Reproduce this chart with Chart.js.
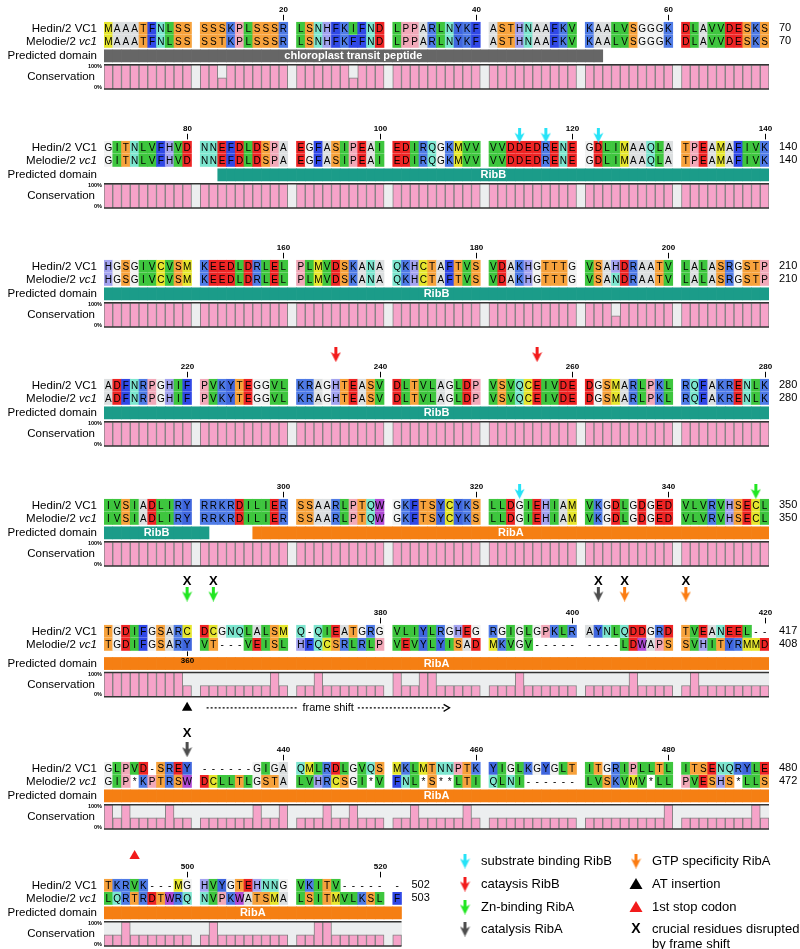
<!DOCTYPE html>
<html>
<head>
<meta charset="utf-8">
<script src="https://cdn.jsdelivr.net/npm/chart.js@4.4.1/dist/chart.umd.min.js"></script>
<style>
body { margin: 0; background: #fff; overflow: hidden; width: 800px; height: 949px; position: relative; }
canvas { position: absolute; left: 0; }
</style>
</head>
<body>
<script>
// alignment, one string per block; a space is the gap column between groups of ten
var hedinSeq = [
    'MAAATFNLSS SSSKPLSSSR LSNHFKIFND LPPARLNYKF ASTHNAAFKV KAALVSGGGK DLAVVDESKS',
    'GITNLVFHVD NNEFDLDSPA EGFASIPEAI EDIRQGKMVV VVDDEDRENE GDLIMAAQLA TPEAMAFIVK',
    'HGSGIVCVSM KEEDLDRLEL PLMVDSKANA QKHCTAFTVS VDAKHGTTTG VSAHDRAATV LALASRGSTP',
    'ADFNRPGHIF PVKYTEGGVL KRAGHTEASV DLTVLAGLDP VSVQCEIVDE DGSMARLPKL RQFAKRENLK',
    'IVSIADLIRY RRKRDILIER SSAARLPTQW GKFTSYCYKS LLDGIEHIAM VKGDLGDGED VLVRVHSECL',
    'TGDIFGSARC DCGNQLALSM Q-QIEATGRG VLIYLRGHEG RGIGLGPKLR AYNLQDDGRD TVEANEEL--',
    'GLPVD-SREY ------GIGA QMLRDLGVQS MKLMTNNPTK YIGLKGYGLT ITGRIPLLTL ITSENQRYLE',
    'TKRVK---MG HVYGTEHNNG VKITV----- -'
];
var melodieSeq = [
    'MAAATFNLSS SSTKPLSSSR LSNHFKFFND LPPARLNYKF ASTHNAAFKV KAALVSGGGK DLAVVDESKS',
    'GITNLVFHVD NNEFDLDSPA EGFASIPEAI EDIRQGKMVV VVDDEDRENE GDLIMAAQLA TPEAMAFIVK',
    'HGSGIVCVSM KEEDLDRLEL PLMVDSKANA QKHCTAFTVS VDAKHGTTTG VSANDRAATV LALASRGSTP',
    'ADFNRPGHIF PVKYTEGGVL KRAGHTEASV DLTVLAGLDP VSVQCEIVDE DGSMARLPKL RQFAKRENLK',
    'IVSIADLIRY RRKRDILIER SSAARLPTQW GKFTSYCYKS LLDGIEHIAM VKGDLGDGED VLVRVHSECL',
    'TGDIFGSARY VT---VEISL HFQCSRLRLP VEVYLYISAD MKVGV----- ----LDWAPS SVHITYRMMD',
    'GIP*KPTRSW DCLLTLGSTA LVHRCSGI*V FNL*S**LTI QLNI------ LVSKVMV*LL PVESHS*LLS',
    'LQRTRDTWRQ NVPKWATSMA LSITMVLKSL F'
];
// conservation: H full, L partial
var consCode = [
    'HHHHHHHHHH HHLHHHHHHH HHHHHHLHHH HHHHHHHHHH HHHHHHHHHH HHHHHHHHHH HHHHHHHHHH',
    'HHHHHHHHHH HHHHHHHHHH HHHHHHHHHH HHHHHHHHHH HHHHHHHHHH HHHHHHHHHH HHHHHHHHHH',
    'HHHHHHHHHH HHHHHHHHHH HHHHHHHHHH HHHHHHHHHH HHHHHHHHHH HHHLHHHHHH HHHHHHHHHH',
    'HHHHHHHHHH HHHHHHHHHH HHHHHHHHHH HHHHHHHHHH HHHHHHHHHH HHHHHHHHHH HHHHHHHHHH',
    'HHHHHHHHHH HHHHHHHHHH HHHHHHHHHH HHHHHHHHHH HHHHHHHHHH HHHHHHHHHH HHHHHHHHHH',
    'HHHHHHHHHL LLLLLLLLHL LLHLLLLLLL HLLHHLLLLL LLLHLLLLLL LLLLLHLLLL LHLLLLLLLL',
    'HLHLLLLHLL LLLLLLHLLH LLLHLLHLLL LLHLLLLLHL LLLLLLLLLL LLLLLLLLLH LLLLLLLLHL',
    'LLHLLLLLLL LHLLLLLLLL LLHHLLLLLL L'
];
var consValue = { H: 100, L: 46 };

var tickNumbers = [20, 40, 60, 80, 100, 120, 140, 160, 180, 200, 220, 240, 260, 280,
                   300, 320, 340, 380, 400, 420, 440, 460, 480, 500, 520];
var tickBelow = [360];
var hedinEnd = [70, 140, 210, 280, 350, 417, 480, 502];
var melodieEnd = [70, 140, 210, 280, 350, 408, 472, 503];

var domainNames = ['chloroplast transit peptide', 'RibB', 'RibA'];
var domainStart = [1, 83, 297];
var domainEnd = [52, 291, 521];
var domainColors = ['#666666', '#1b9c89', '#f57f13'];

var substrateRibB = [114, 117, 122, 324];
var catalysisRibB = [235, 256];
var znRibA = [349, 360, 362];
var catalysisRibA = [402, 430];
var gtpRibA = [405, 411];
var disrupted = [360, 362, 402, 405, 411, 430];
var atInsertion = [360];
var firstStop = [424];
var frameShift = [361, 387];

var aaColors = {
    A: '#dcdfe0', G: '#f1f2f2',
    D: '#ee2424', E: '#ee2424',
    K: '#4f7be6', R: '#4f7be6', F: '#3048e6', Y: '#3f66de', H: '#a3a3f0', W: '#b04ad6',
    N: '#7de6cf', Q: '#7de6cf',
    S: '#f7a23c', T: '#f7a23c',
    L: '#3ec63e', I: '#3ec63e', V: '#3ec63e',
    M: '#e6e62e', C: '#e6e62e',
    P: '#f2a9b9'
};

var FONT = '"Liberation Sans", Arial, sans-serif';
var NARROW = '"Liberation Sans Narrow", "Liberation Sans", Arial, sans-serif';
var blockY = [27, 146, 265, 384, 504, 630, 767, 884];   // centre of the Hedin row
var arrowLift = [20, 13, 20, 33, 15, 40, 20, 20];        // arrows sit this far above it
var CANVAS_H = 180, ROW0 = 70;

function posToCol(p) {
    var i = (p - 1) % 70;
    return { b: Math.floor((p - 1) / 70), c: i + Math.floor(i / 10) };
}

function makeArrow(color) {
    var c = document.createElement('canvas');
    c.width = 11; c.height = 15;
    var g = c.getContext('2d');
    g.fillStyle = color;
    g.beginPath();
    g.moveTo(4, 0); g.lineTo(7, 0); g.lineTo(7, 7); g.lineTo(10.5, 5);
    g.lineTo(5.5, 15); g.lineTo(0.5, 5); g.lineTo(4, 7);
    g.closePath();
    g.fill();
    return c;
}
var arrowCyan = makeArrow('#26e3f7');
var arrowRed = makeArrow('#f21b1b');
var arrowGreen = makeArrow('#22e622');
var arrowGrey = makeArrow('#4d4d4d');
var arrowOrange = makeArrow('#fb7c12');

function markerData(list, b, yVal) {
    var d = [];
    for (var i = 0; i < 76; i++) d.push(null);
    list.forEach(function (p) {
        var q = posToCol(p);
        if (q.b === b) d[q.c] = yVal;
    });
    return d;
}

function domainCols(b) {
    var out = [];
    for (var k = 0; k < domainNames.length; k++) {
        var s = posToCol(domainStart[k]), e = posToCol(domainEnd[k]);
        if (s.b > b || e.b < b) continue;
        out.push({ k: k, c0: s.b === b ? s.c : 0, c1: e.b === b ? e.c : hedinSeq[b].length - 1 });
    }
    return out;
}

var seqPlugin = {
    id: 'seqText',
    afterDatasetsDraw: function (chart, args, opts) {
        var b = opts.block, L = opts.layout, ctx = chart.ctx;
        var xs = chart.scales.x, ys = chart.scales.y, yc = chart.scales.yc;
        var len = hedinSeq[b].length;
        var colW = xs.getPixelForValue(1) - xs.getPixelForValue(0);
        function cx(c) { return xs.getPixelForValue(c); }
        function py(v) { return ys.getPixelForValue(v); }
        var yH = py((L.hTop + L.hBot) / 2), yM = py((L.mTop + L.mBot) / 2);
        var yD = py((L.dTop + L.dBot) / 2);
        var c100 = yc.getPixelForValue(100), c0 = yc.getPixelForValue(0);
        var left = cx(0) - colW / 2, right = cx(len - 1) + colW / 2;

        ctx.save();
        ctx.textBaseline = 'middle';
        ctx.fillStyle = '#000';

        // row names
        ctx.textAlign = 'right';
        ctx.font = '11.5px ' + NARROW;
        ctx.fillText('Hedin/2 VC1', 97, yH);
        ctx.font = 'italic 11.5px ' + NARROW;
        var w = ctx.measureText('vc1').width;
        ctx.fillText('vc1', 97, yM);
        ctx.font = '11.5px ' + NARROW;
        ctx.fillText('Melodie/2 ', 97 - w, yM);
        ctx.fillText('Predicted domain', 97, yD);
        ctx.fillText('Conservation', 95, (c100 + c0) / 2);
        ctx.font = 'bold 5.5px ' + FONT;
        ctx.fillText('100%', 102, c100 + 2);
        ctx.fillText('0%', 102, c0 - 2);

        // residue letters
        ctx.textAlign = 'center';
        ctx.font = '10px ' + FONT;
        for (var c = 0; c < len; c++) {
            if (hedinSeq[b][c] !== ' ') ctx.fillText(hedinSeq[b][c], cx(c), yH + 0.5);
            if (melodieSeq[b][c] !== ' ') ctx.fillText(melodieSeq[b][c], cx(c), yM + 0.5);
        }

        // end numbers
        ctx.textAlign = 'left';
        ctx.font = '11px ' + FONT;
        ctx.fillText(String(hedinEnd[b]), right + 10, yH);
        ctx.fillText(String(melodieEnd[b]), right + 10, yM);

        // ruler numbers
        ctx.textAlign = 'center';
        ctx.font = 'bold 8px ' + NARROW;
        ctx.strokeStyle = '#000';
        ctx.lineWidth = 1;
        tickNumbers.forEach(function (n) {
            var q = posToCol(n);
            if (q.b !== b) return;
            var x = Math.round(cx(q.c)) + 0.5;
            ctx.fillText(String(n), x, py(L.hTop - 13));
            ctx.beginPath(); ctx.moveTo(x, py(L.hTop - 8)); ctx.lineTo(x, py(L.hTop - 2)); ctx.stroke();
        });
        tickBelow.forEach(function (n) {
            var q = posToCol(n);
            if (q.b !== b) return;
            var x = Math.round(cx(q.c)) + 0.5;
            ctx.beginPath(); ctx.moveTo(x, py(L.mBot + 1)); ctx.lineTo(x, py(L.mBot + 6)); ctx.stroke();
            ctx.fillText(String(n), x, py(L.mBot + 11));
        });

        // domain names
        ctx.fillStyle = '#fff';
        ctx.font = 'bold 11px ' + NARROW;
        domainCols(b).forEach(function (d) {
            ctx.fillText(domainNames[d.k], (cx(d.c0) + cx(d.c1)) / 2, yD + 0.5);
        });

        // conservation frame
        ctx.strokeStyle = '#333';
        ctx.lineWidth = 1.5;
        ctx.beginPath();
        ctx.moveTo(left, c100); ctx.lineTo(right, c100);
        ctx.moveTo(left, c0); ctx.lineTo(right, c0);
        ctx.stroke();

        // crucial residues disrupted by frame shift
        ctx.fillStyle = '#000';
        ctx.font = 'bold 13px ' + FONT;
        disrupted.forEach(function (p) {
            var q = posToCol(p);
            if (q.b === b) ctx.fillText('X', cx(q.c), py(opts.xRow));
        });

        // frame shift arrow
        var fs0 = posToCol(frameShift[0]), fs1 = posToCol(frameShift[1]);
        if (fs0.b === b) {
            var yF = py(L.cBot + 12);
            var xa = cx(fs0.c) + 2, xb = cx(fs1.c);
            var xm = (xa + xb) / 2;
            ctx.font = '11px ' + FONT;
            var tw = ctx.measureText('frame shift').width;
            ctx.fillText('frame shift', xm, yF);
            ctx.setLineDash([2, 2]);
            ctx.lineWidth = 1.2;
            ctx.strokeStyle = '#000';
            ctx.beginPath();
            ctx.moveTo(xa, yF); ctx.lineTo(xm - tw / 2 - 4, yF);
            ctx.moveTo(xm + tw / 2 + 4, yF); ctx.lineTo(xb - 4, yF);
            ctx.stroke();
            ctx.setLineDash([]);
            ctx.beginPath();
            ctx.moveTo(xb - 6, yF - 3.5); ctx.lineTo(xb, yF); ctx.lineTo(xb - 6, yF + 3.5);
            ctx.stroke();
        }

        // legend, drawn with the last block
        if (b === 7) {
            var off = blockY[7] - ROW0;
            var items = [
                [465, 861, arrowCyan, 'substrate binding RibB'],
                [465, 884, arrowRed, 'cataysis RibB'],
                [465, 907, arrowGreen, 'Zn-binding RibA'],
                [465, 929, arrowGrey, 'catalysis RibA'],
                [636, 861, arrowOrange, 'GTP specificity RibA']
            ];
            ctx.font = '13px ' + FONT;
            ctx.textAlign = 'left';
            ctx.fillStyle = '#000';
            items.forEach(function (it) {
                ctx.drawImage(it[2], it[0] - 5.5, it[1] - off - 7.5);
                ctx.fillText(it[3], it[0] + 16, it[1] - off);
            });
            function tri(x, y, col) {
                ctx.fillStyle = col;
                ctx.beginPath();
                ctx.moveTo(x, y - 6); ctx.lineTo(x + 6.5, y + 5); ctx.lineTo(x - 6.5, y + 5);
                ctx.closePath(); ctx.fill();
            }
            tri(636, 884 - off, '#000');
            tri(636, 907 - off, '#f21b1b');
            ctx.fillStyle = '#000';
            ctx.fillText('AT insertion', 652, 884 - off);
            ctx.fillText('1st stop codon', 652, 907 - off);
            ctx.font = 'bold 14px ' + FONT;
            ctx.textAlign = 'center';
            ctx.fillText('X', 636, 929 - off);
            ctx.font = '13px ' + FONT;
            ctx.textAlign = 'left';
            ctx.fillText('crucial residues disrupted', 652, 929 - off);
            ctx.fillText('by frame shift', 652, 944 - off);
        }
        ctx.restore();
    }
};

function drawBlock(b) {
    var h = ROW0;
    var shift = b === 5 ? 5 : 0;
    var L = {
        hTop: h - 6.5, hBot: h + 6.5,
        mTop: h + 7.5, mBot: h + 20.5,
        dTop: h + 23 + shift, dBot: h + 36 + shift,
        cTop: h + 39 + shift, cBot: h + 65 + shift
    };
    var seqH = hedinSeq[b], seqM = melodieSeq[b], len = seqH.length;
    var labels = [], boxData = [], consData = [], hData = [], hCol = [], mData = [], mCol = [];
    var domData = [], domCol = [];
    for (var c = 0; c < 76; c++) {
        labels.push(String(c));
        boxData.push(c < len ? 100 : null);
        var code = consCode[b][c];
        consData.push(code && code !== ' ' ? consValue[code] : null);
        hData.push(c < len && seqH[c] !== ' ' ? [L.hTop, L.hBot] : null);
        hCol.push(aaColors[seqH[c]] || 'rgba(0,0,0,0)');
        mData.push(c < len && seqM[c] !== ' ' ? [L.mTop, L.mBot] : null);
        mCol.push(aaColors[seqM[c]] || 'rgba(0,0,0,0)');
        domData.push(null);
        domCol.push('rgba(0,0,0,0)');
    }
    domainCols(b).forEach(function (d) {
        for (var c = d.c0; c <= d.c1; c++) {
            domData[c] = [L.dTop, L.dBot];
            domCol[c] = domainColors[d.k];
        }
    });

    var R = 100 * CANVAS_H / (L.cBot - L.cTop);
    var ycMin = -(CANVAS_H - L.cBot) * R / CANVAS_H;

    var arrowRow = h - arrowLift[b];
    var bar = { barPercentage: 1, categoryPercentage: 1, grouped: false, borderWidth: 0 };
    function barSet(extra) { return Object.assign({}, bar, extra); }
    function pts(list, style, yVal, extra) {
        return Object.assign({
            type: 'line', showLine: false, pointStyle: style, pointRadius: 5,
            data: markerData(list, b, yVal), order: 0
        }, extra || {});
    }

    var datasets = [
        barSet({ label: 'box', data: boxData, yAxisID: 'yc', backgroundColor: '#eceeef', order: 20 }),
        barSet({ label: 'Conservation', data: consData, yAxisID: 'yc', backgroundColor: '#f6a3c9',
                 borderColor: '#808080', borderWidth: 1, order: 15 }),
        barSet({ label: 'Hedin/2 VC1', data: hData, backgroundColor: hCol, order: 10 }),
        barSet({ label: 'Melodie/2 vc1', data: mData, backgroundColor: mCol, order: 10 }),
        barSet({ label: 'Predicted domain', data: domData, backgroundColor: domCol, order: 10 }),
        pts(substrateRibB, arrowCyan, arrowRow),
        pts(catalysisRibB, arrowRed, arrowRow),
        pts(znRibA, arrowGreen, arrowRow),
        pts(catalysisRibA, arrowGrey, arrowRow),
        pts(gtpRibA, arrowOrange, arrowRow),
        pts(atInsertion, 'triangle', L.cBot + 12, { pointRadius: 6, backgroundColor: '#000', borderWidth: 0 }),
        pts(firstStop, 'triangle', L.cBot + 29, { pointRadius: 6, backgroundColor: '#f21b1b', borderWidth: 0 })
    ];

    var cv = document.createElement('canvas');
    cv.width = 800; cv.height = CANVAS_H;
    cv.style.top = (blockY[b] - ROW0) + 'px';
    document.body.appendChild(cv);

    new Chart(cv.getContext('2d'), {
        type: 'bar',
        data: { labels: labels, datasets: datasets },
        options: {
            responsive: false,
            animation: false,
            events: [],
            layout: { padding: { left: 104, right: 31, top: 0, bottom: 0 } },
            plugins: {
                legend: { display: false },
                tooltip: { enabled: false },
                seqText: { block: b, layout: L, xRow: b === 6 ? h - 37 : h - 54 }
            },
            scales: {
                x: { display: false, offset: true },
                y: { display: false, min: 0, max: CANVAS_H, reverse: true },
                yc: { display: false, min: ycMin, max: ycMin + R }
            }
        },
        plugins: [seqPlugin]
    });
}

for (var b = 0; b < hedinSeq.length; b++) drawBlock(b);
</script>
</body>
</html>
